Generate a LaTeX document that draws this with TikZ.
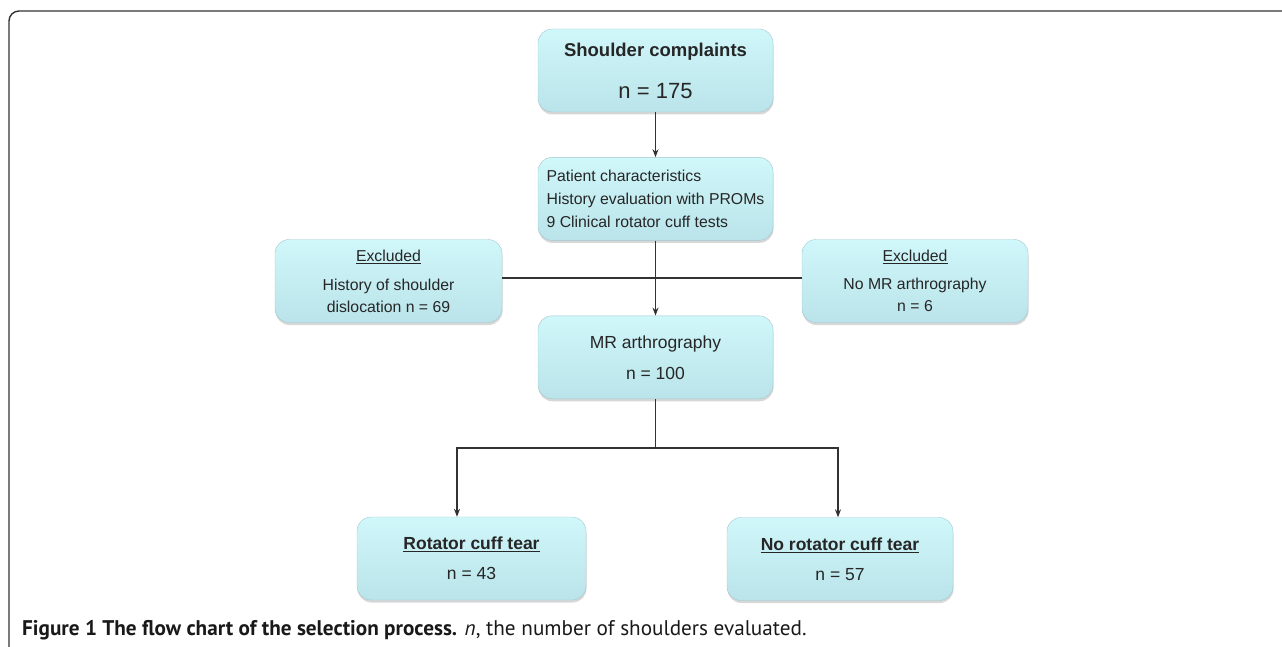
\documentclass[tikz,border=0pt]{standalone}
\usepackage{fontspec}
\setmainfont{Liberation Sans}
\newfontfamily\capfont{PT Sans}
\usetikzlibrary{positioning, shadows, calc, arrows.meta}
\definecolor{boxtop}{RGB}{208,247,250}
\definecolor{boxbottom}{RGB}{186,228,234}
\definecolor{boxline}{RGB}{160,200,208}
\definecolor{linegray}{RGB}{50,50,50}

\begin{document}
\begin{tikzpicture}
        [
            x=1pt, y=1pt,
            >={Stealth[length=8pt, width=6pt]},
            stage/.style={rectangle, rounded corners=14pt, draw=boxline,
                          top color=boxtop, bottom color=boxbottom,
                          drop shadow={shadow xshift=0.5pt, shadow yshift=-2.5pt,
                                       fill=gray!70, opacity=0.45},
                          minimum width=235pt, minimum height=83pt,
                          align=center, inner sep=0pt, text=black!85},
            side/.style={stage, minimum width=227pt,
                         font=\fontsize{15.8}{22}\selectfont},
            link/.style={draw=linegray, line width=1.2pt}
        ]
        \useasboundingbox (0,0) rectangle (1282,-647);
        \draw [linegray, line width=1.4pt, rounded corners=10pt]
            (9,-647) -- (9,-11) -- (1282,-11);
        \node (top) [stage, font=\fontsize{18.5}{42}\selectfont] at (655.5,-70.5)
            {\textbf{Shoulder complaints}\\{\fontsize{22}{42}\selectfont n = 175}};
        \node (chars) [stage, below=45pt of top, align=left,
                       font=\fontsize{15.8}{23}\selectfont]
            {Patient characteristics\\History evaluation with PROMs\\9 Clinical rotator cuff tests};
        \node (mr) [stage, below=75pt of chars, font=\fontsize{17.5}{31}\selectfont]
            {MR arthrography\\n = 100};
        \node (exL) [side] at (388.5,-281)
            {\underline{Excluded}\\[7pt]History of shoulder\\dislocation n = 69};
        \node (exR) [side, minimum width=226pt] at (915,-281)
            {\underline{Excluded}\\[6pt]No MR arthrography\\n = 6};
        \node (tear) [stage, minimum width=229pt, font=\fontsize{17.5}{30}\selectfont]
            at (471.5,-558.5) {\textbf{\underline{Rotator cuff tear}}\\n = 43};
        \node (notear) [stage, minimum width=226pt, font=\fontsize{17.5}{30}\selectfont]
            at (840,-559) {\textbf{\underline{No rotator cuff tear}}\\n = 57};
        \foreach \i/\j in {top/chars,chars/mr}
            \draw [link, ->] (\i) -- (\j);
        \draw [link] ([yshift=3pt]exL.east) -- ([yshift=3pt]exR.west);
        \coordinate (split) at ($(mr.south)+(0,-49)$);
        \draw [link] (mr) -- (split);
        \draw [link, ->] (split) -| ([xshift=-14.5pt]tear.north);
        \draw [link, ->] (split) -| ([xshift=-2pt]notear.north);
        \node (caption) [anchor=west, inner sep=0pt, text=black!90,
                         font=\capfont\fontsize{21.2}{25}\selectfont] at (22,-630)
            {\textbf{Figure 1 The flow chart of the selection process.} \textit{n}, the number of shoulders evaluated.};
    \end{tikzpicture}
\end{document}
